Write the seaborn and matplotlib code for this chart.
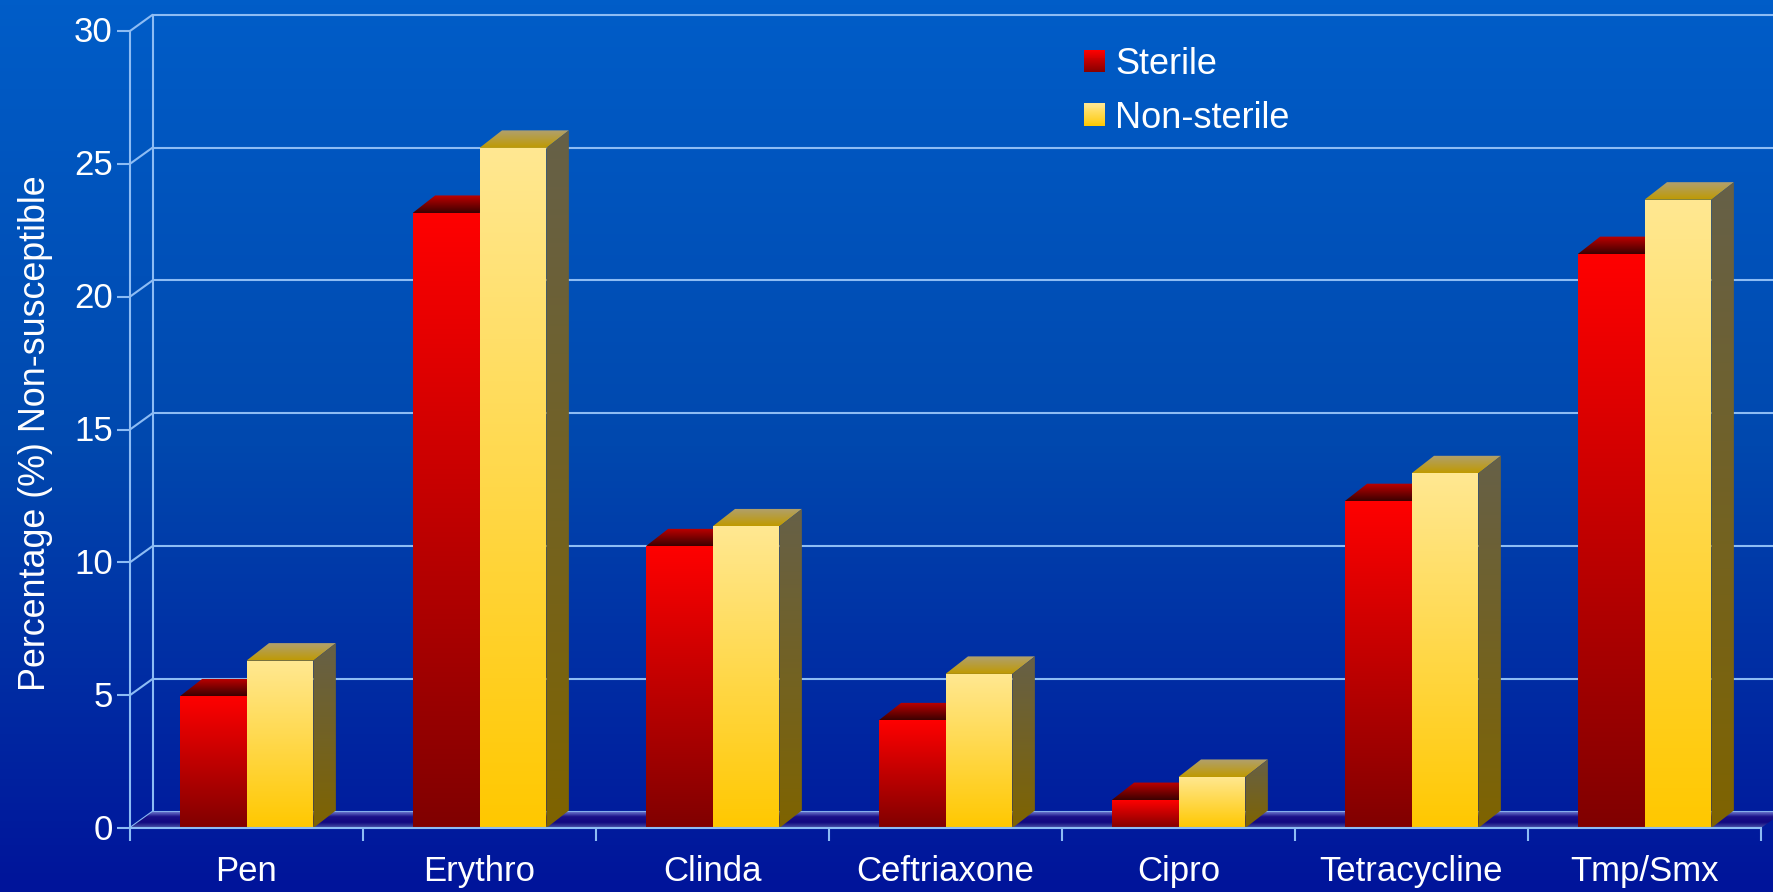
import numpy as np
import pandas as pd
import matplotlib
matplotlib.use("Agg")
import matplotlib.pyplot as plt
import seaborn as sns
from matplotlib.colors import LinearSegmentedColormap
from matplotlib.legend_handler import HandlerBase
from matplotlib.patches import Polygon, Rectangle
from matplotlib.transforms import ScaledTranslation

# DATA
drugs = ["Pen", "Erythro", "Clinda", "Ceftriaxone", "Cipro", "Tetracycline", "Tmp/Smx"]
sterile = [4.95, 23.15, 10.6, 4.05, 1.05, 12.3, 21.6]
non_sterile = [6.3, 25.6, 11.35, 5.8, 1.92, 13.35, 23.65]
y_ticks = [0, 5, 10, 15, 20, 25, 30]
series_names = ["Sterile", "Non-sterile"]

# STYLE
sns.set_theme(style="white")
plt.rcParams["font.family"] = ["Liberation Sans", "DejaVu Sans"]

LINE = "#8dbcf4"
LW = 1.5
# fake 3D depth, in data units
DEPTH_X = 0.0966
DEPTH_Y = 0.61
BAR_DEPTH_Y = 0.66

FRONT = {"Sterile": ["#ff0000", "#800000"], "Non-sterile": ["#ffe892", "#ffc800"]}
TOP = {"Sterile": ["#c00000", "#3c0000"], "Non-sterile": ["#b0a070", "#c09a00"]}
SIDE = {"Sterile": ["#500000", "#400000"], "Non-sterile": ["#666048", "#7f6400"]}
FLOOR = ["#7888d8", "#1a1088", "#120a80", "#4a55a8"]


def gradient(ax, verts, colors, z):
    # vertical gradient clipped to a polygon
    verts = np.array(verts)
    cmap = LinearSegmentedColormap.from_list("g", colors[::-1])
    img = np.linspace(1, 0, 256)[:, None]
    im = ax.imshow(
        img, cmap=cmap, vmin=0, vmax=1, aspect="auto", zorder=z,
        interpolation="bilinear",
        extent=[verts[:, 0].min(), verts[:, 0].max(), verts[:, 1].min(), verts[:, 1].max()],
    )
    im.set_clip_path(Polygon(verts, transform=ax.transData))
    im.set_clip_box(ax.figure.bbox)


class GradientHandle(HandlerBase):
    def create_artists(self, legend, orig_handle, xdescent, ydescent, width, height, fontsize, trans):
        top, bottom = FRONT[orig_handle.get_label()]
        cmap = LinearSegmentedColormap.from_list("h", [bottom, top])
        n = 24
        out = []
        for i in range(n):
            r = Rectangle(
                (-xdescent, -ydescent + height * i / n), width, height / n + 0.3,
                facecolor=cmap((i + 0.5) / n), edgecolor="none", transform=trans,
            )
            out.append(r)
        return out


fig = plt.figure(figsize=(17.73, 8.92), dpi=100)

# BACKGROUND
bg = fig.add_axes([0, 0, 1, 1], zorder=0)
bg.imshow(
    np.linspace(1, 0, 256)[:, None], aspect="auto", interpolation="bilinear",
    cmap=LinearSegmentedColormap.from_list("bg", ["#00149a", "#0048ae", "#005dc8"]),
)
bg.axis("off")

ax = fig.add_axes([130 / 1773, 1 - 828 / 892, 1631 / 1773, 797 / 892], zorder=1)
ax.patch.set_alpha(0)

df = pd.DataFrame({
    "drug": drugs * 2,
    "pct": sterile + non_sterile,
    "specimen": [series_names[0]] * len(drugs) + [series_names[1]] * len(drugs),
})
sns.barplot(
    data=df, x="drug", y="pct", hue="specimen", hue_order=series_names,
    palette=["#ff0000", "#ffc800"], width=0.574, gap=0, legend=False, ax=ax,
)

x_lo, x_hi = -0.5, len(drugs) - 0.5
y_lo, y_hi = y_ticks[0], y_ticks[-1]

# WALLS
for t in y_ticks:
    ax.plot([x_lo + DEPTH_X, x_hi + DEPTH_X], [t + DEPTH_Y] * 2, color=LINE, lw=LW, zorder=1, clip_on=False)
    ax.plot([x_lo, x_lo + DEPTH_X], [t, t + DEPTH_Y], color=LINE, lw=LW, zorder=1, clip_on=False)
ax.plot([x_lo + DEPTH_X] * 2, [DEPTH_Y, y_hi + DEPTH_Y], color=LINE, lw=LW, zorder=1, clip_on=False)

# FLOOR
gradient(ax, [(x_lo, 0), (x_hi, 0), (x_hi + DEPTH_X, DEPTH_Y), (x_lo + DEPTH_X, DEPTH_Y)], FLOOR, 1.5)

# BARS, drawn from what seaborn placed
for name, container in zip(series_names, ax.containers):
    z = 3 if name == series_names[0] else 4
    for bar in container:
        x0, w, h = bar.get_x(), bar.get_width(), bar.get_height()
        bar.set_visible(False)
        gradient(ax, [(x0, 0), (x0 + w, 0), (x0 + w, h), (x0, h)], FRONT[name], z + 0.2)
        gradient(ax, [(x0, h), (x0 + w, h), (x0 + w + DEPTH_X, h + BAR_DEPTH_Y), (x0 + DEPTH_X, h + BAR_DEPTH_Y)], TOP[name], z)
        gradient(ax, [(x0 + w, 0), (x0 + w + DEPTH_X, BAR_DEPTH_Y), (x0 + w + DEPTH_X, h + BAR_DEPTH_Y), (x0 + w, h)], SIDE[name], z)

# AXES
ax.set_xlim(x_lo, x_hi)
ax.set_ylim(y_lo, y_hi)
ax.set_yticks(y_ticks)
ax.set_xticks(range(len(drugs)))
ax.set_xticklabels(drugs)
ax.set_xticks(np.arange(x_lo, x_hi + 1), minor=True)
ax.tick_params(axis="y", which="major", left=True, length=9.4, width=LW, color=LINE, labelcolor="white", labelsize=25, pad=3)
ax.tick_params(axis="x", which="major", bottom=False, length=0, labelcolor="white", labelsize=25, pad=19.5)
ax.tick_params(axis="x", which="minor", bottom=True, length=9.4, width=LW, color=LINE)
# nudge the y tick labels down a little
for lab in ax.get_yticklabels():
    lab.set_verticalalignment("center")
    lab.set_transform(lab.get_transform() + ScaledTranslation(0, -2 / 100, fig.dpi_scale_trans))
ax.set_xlabel("")
ax.set_ylabel("Percentage (%) Non-susceptible", color="white", fontsize=25.8)
ax.yaxis.set_label_coords(-77 / 1631, 0.496)
sns.despine(ax=ax, top=True, right=True)
for s in ["left", "bottom"]:
    ax.spines[s].set_color(LINE)
    ax.spines[s].set_linewidth(LW)
    ax.spines[s].set_zorder(6)

# LEGEND
handles = [Rectangle((0, 0), 1, 1, label=n) for n in series_names]
leg = ax.legend(
    handles=handles, labels=series_names, frameon=False, fontsize=26,
    handler_map={Rectangle: GradientHandle()},
    handlelength=0.58, handleheight=0.58, handletextpad=0.28, labelspacing=0.52,
    loc="upper left", bbox_to_anchor=(1084 / 1773, 1 - 47 / 892),
    bbox_transform=fig.transFigure, borderpad=0, borderaxespad=0,
    labelcolor="white",
)

fig.savefig("out.png", dpi=100)
